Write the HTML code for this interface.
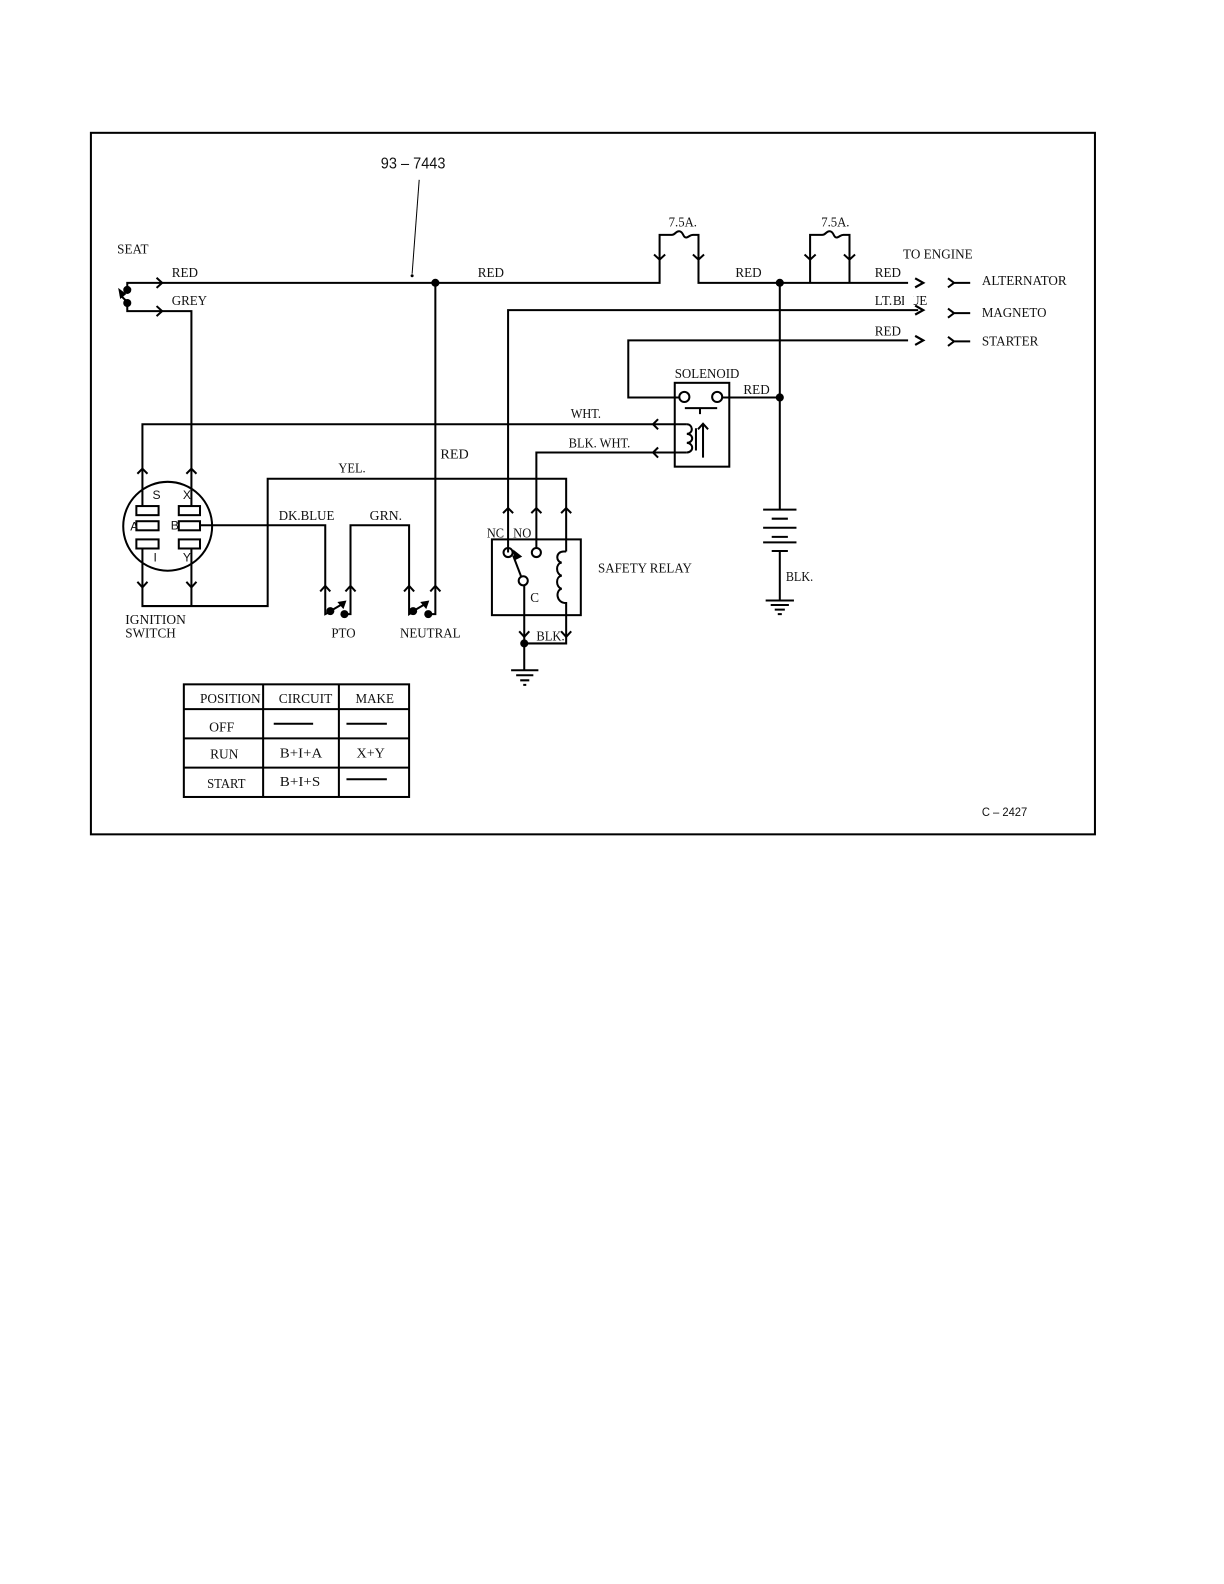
<!DOCTYPE html>
<html>
<head>
<meta charset="utf-8">
<style>
html,body{margin:0;padding:0;background:#fff;width:1224px;height:1584px;overflow:hidden}
svg{display:block}
text{font-family:"Liberation Serif",serif;font-size:13px;fill:#111}
.s{font-family:"Liberation Sans",sans-serif}
</style>
</head>
<body>
<svg width="1224" height="1584" viewBox="0 0 1211.76 1568.16" xmlns="http://www.w3.org/2000/svg">
<rect width="1224" height="1584" fill="#fff"/>
<rect x="90" y="131.500" width="994" height="694.500" fill="none" stroke="#000" stroke-width="2"/>

<g fill="none" stroke="#000" stroke-width="2">
<!-- leader -->
<path d="M415 178L408 271" stroke-width="1"/>
<!-- main wires -->
<path d="M126 285V280H653V232.500H665C669 232.500 669 228 673 229C677 230 676 236 680 235C683 234 683 232.500 686 232.500H691.500V280H899"/>
<path d="M802 280V232.500H814C818 232.500 818 228 822 229C826 230 825 236 829 235C832 234 832 232.500 835 232.500H841V280"/>
<path d="M126 300V308H189.500V501"/>
<path d="M503 547V307H909"/>
<path d="M672 393.500H622V337H899"/>
<path d="M715 393.500H772"/>
<path d="M772 280V505"/>
<path d="M772 546V595"/>
<path d="M431 280V608L424 608"/>
<!-- switch wires -->
<path d="M141 501V420H680"/>
<path d="M141 543V600H265V474H560.500V546"/>
<path d="M189.500 543V600"/>
<path d="M198 520H322V608L327 605.500"/>
<path d="M341 608H347V520H405V608L409 605.500"/>
<path d="M531 542V448H680"/>
<!-- ignition -->
<circle cx="166" cy="521" r="44"/>
<rect x="135" y="501" width="22" height="9"/>
<rect x="135" y="516" width="22" height="9"/>
<rect x="135" y="534" width="22" height="9"/>
<rect x="177" y="501" width="21" height="9"/>
<rect x="177" y="516" width="21" height="9"/>
<rect x="177" y="534" width="21" height="9"/>
<!-- solenoid -->
<rect x="668" y="379" width="54" height="83"/>
<circle cx="677.500" cy="393" r="5"/>
<circle cx="710" cy="393" r="5"/>
<path d="M678 404H710M693 404V410"/>
<path d="M680 420C686 420 687 429 680 429.500C687 430 687 438 680 438.500C687 439 687 447.500 680 448"/>
<path d="M689 424V446M696 420V453M691 425L696 419.500L701 425"/>
<!-- relay -->
<rect x="487" y="534" width="88" height="75"/>
<circle cx="503" cy="547" r="4.500"/>
<circle cx="531" cy="547" r="4.500"/>
<circle cx="518" cy="575" r="4.500"/>
<path d="M516 571L508 550"/>
<path d="M519 580V663"/>
<path d="M560.500 546H558C550 546 550 556 556 557C550 558 550 568 556 570C550 571 550 581 556 583C550 584 550 597 560.500 597V637H519"/>
<!-- grounds -->
<path d="M506 663.500H533M511 668.500H528M515 673.500H524M518 678H521"/>
<path d="M758 594.500H786M763 599H781M767 603.500H777M770 608H774"/>
<!-- battery -->
<path d="M755.500 504.500H788.500M764 513.500H780M755.500 522.500H788.500M764 531.500H780M755.500 537H788.500M764 545.500H780"/>
<!-- table -->
<rect x="182" y="677.500" width="223" height="111.500"/>
<path d="M260.500 677V789M335.500 677V789M182 702H405M182 731H405M182 760H405"/>
<path d="M271 716.500H310M343 716.500H383M343 771.500H383"/>
<!-- chevrons right -->
<path d="M155 275L160.500 280L155 285M155 303L160.500 308L155 313"/>
<path d="M906 275.500L914 280L906 284.500M906 302.500L914 307L906 311.500M906 332.500L914 337L906 341.500" stroke-width="2.200"/>
<path d="M938.500 275.500L944.500 280L938.500 284.500M944.500 280H960.500M938.500 305.500L944.500 310L938.500 314.500M944.500 310H960.500M938.500 333.500L944.500 338L938.500 342.500M944.500 338H960.500" stroke-width="2"/>
<!-- chevrons down -->
<path d="M647.500 252L653 257L658.500 252M686 252L691.500 257L697 252M796.500 252L802 257L807.500 252M835.500 252L841 257L846.500 252"/>
<path d="M136 576L141 581.500L146 576M184.500 576L189.500 581.500L194.500 576"/>
<path d="M514 625L519 630.500L524 625M555.500 625L560.500 630.500L565.500 625"/>
<!-- chevrons up -->
<path d="M136 469L141 464L146 469M184.500 469L189.500 464L194.500 469"/>
<path d="M317 585.500L322 580L327 585.500M342 585.500L347 580L352 585.500M400 585.500L405 580L410 585.500M426 585.500L431 580L436 585.500"/>
<path d="M498 508L503 503L508 508M526 508L531 503L536 508M555.500 508L560.500 503L565.500 508"/>
<!-- chevrons left -->
<path d="M651.500 415L646.500 420L651.500 425M651.500 443L646.500 448L651.500 453"/>
<!-- switch arrows -->
<path d="M327 605L339 598M409 605L421 598"/>
</g>

<g fill="#000">
<circle cx="431" cy="280" r="4"/>
<circle cx="772" cy="280" r="4"/>
<circle cx="772" cy="393.500" r="4"/>
<circle cx="519" cy="637" r="4"/>
<circle cx="408" cy="273" r="1.500"/>
<circle cx="126" cy="287" r="4"/>
<circle cx="126" cy="300" r="4"/>
<circle cx="327" cy="605" r="4"/>
<circle cx="341" cy="608" r="4"/>
<circle cx="409" cy="605" r="4"/>
<circle cx="424" cy="608" r="4"/>
<polygon points="117,285 125,291 119,296"/>
<path d="M119 292L125 298" stroke="#000" stroke-width="2"/>
<polygon points="343,594.500 334,596 340,603"/>
<polygon points="425,594.500 416,596 422,603"/>
<polygon points="508,544 517,551 509,555"/>
</g>

<text class="s" x="377" y="167" style="font-size:15.500px" textLength="64" lengthAdjust="spacingAndGlyphs">93 – 7443</text>
<text class="s" x="972" y="808" style="font-size:12px" textLength="45" lengthAdjust="spacingAndGlyphs">C – 2427</text>

<text x="116" y="251" textLength="31" lengthAdjust="spacingAndGlyphs">SEAT</text>
<text x="170" y="274" textLength="26" lengthAdjust="spacingAndGlyphs">RED</text>
<text x="170" y="302" textLength="35" lengthAdjust="spacingAndGlyphs">GREY</text>
<text x="473" y="274" textLength="26" lengthAdjust="spacingAndGlyphs">RED</text>
<text x="728" y="274" textLength="26" lengthAdjust="spacingAndGlyphs">RED</text>
<text x="866" y="274" textLength="26" lengthAdjust="spacingAndGlyphs">RED</text>
<text x="866" y="332" textLength="26" lengthAdjust="spacingAndGlyphs">RED</text>
<text x="866 873 880 883 884 892 901 910" y="302">LT. BLUE</text>
<rect x="895" y="292" width="9.500" height="12" fill="#fff"/>
<text x="662" y="224" textLength="28" lengthAdjust="spacingAndGlyphs">7.5A.</text>
<text x="813" y="224" textLength="28" lengthAdjust="spacingAndGlyphs">7.5A.</text>
<text x="894" y="256" textLength="69" lengthAdjust="spacingAndGlyphs">TO ENGINE</text>
<text x="972" y="282" textLength="84" lengthAdjust="spacingAndGlyphs">ALTERNATOR</text>
<text x="972" y="314" textLength="64" lengthAdjust="spacingAndGlyphs">MAGNETO</text>
<text x="972" y="342" textLength="56" lengthAdjust="spacingAndGlyphs">STARTER</text>
<text x="668" y="374" textLength="64" lengthAdjust="spacingAndGlyphs">SOLENOID</text>
<text x="736" y="390" textLength="26" lengthAdjust="spacingAndGlyphs">RED</text>
<text x="565" y="414" textLength="30" lengthAdjust="spacingAndGlyphs">WHT.</text>
<text x="563" y="443" textLength="61" lengthAdjust="spacingAndGlyphs">BLK. WHT.</text>
<text x="436" y="454" textLength="28" lengthAdjust="spacingAndGlyphs">RED</text>
<text x="335" y="468" textLength="27" lengthAdjust="spacingAndGlyphs">YEL.</text>
<text x="276" y="515" textLength="55" lengthAdjust="spacingAndGlyphs">DK.BLUE</text>
<text x="366" y="515" textLength="32" lengthAdjust="spacingAndGlyphs">GRN.</text>
<text x="124" y="618" textLength="60" lengthAdjust="spacingAndGlyphs">IGNITION</text>
<text x="124" y="631" textLength="50" lengthAdjust="spacingAndGlyphs">SWITCH</text>
<text x="328" y="631" textLength="24" lengthAdjust="spacingAndGlyphs">PTO</text>
<text x="396" y="631" textLength="60" lengthAdjust="spacingAndGlyphs">NEUTRAL</text>
<text x="482" y="532" textLength="17" lengthAdjust="spacingAndGlyphs">NC</text>
<text x="508" y="532" textLength="18" lengthAdjust="spacingAndGlyphs">NO</text>
<text x="525" y="596">C</text>
<text x="592" y="567" textLength="93" lengthAdjust="spacingAndGlyphs">SAFETY RELAY</text>
<text x="531" y="634" textLength="28" lengthAdjust="spacingAndGlyphs">BLK.</text>
<text x="778" y="575" textLength="27" lengthAdjust="spacingAndGlyphs">BLK.</text>
<text class="s" x="151" y="494" style="font-size:12px">S</text>
<text class="s" x="181" y="494" style="font-size:12px">X</text>
<text class="s" x="129" y="525" style="font-size:12px">A</text>
<text class="s" x="169" y="524" style="font-size:12px">B</text>
<text class="s" x="152" y="556" style="font-size:12px">I</text>
<text class="s" x="181" y="556" style="font-size:12px">Y</text>

<text x="198" y="696" textLength="60" lengthAdjust="spacingAndGlyphs">POSITION</text>
<text x="276" y="696" textLength="53" lengthAdjust="spacingAndGlyphs">CIRCUIT</text>
<text x="352" y="696" textLength="38" lengthAdjust="spacingAndGlyphs">MAKE</text>
<text x="207" y="724" textLength="25" lengthAdjust="spacingAndGlyphs">OFF</text>
<text x="208" y="751" textLength="28" lengthAdjust="spacingAndGlyphs">RUN</text>
<text x="205" y="780" textLength="38" lengthAdjust="spacingAndGlyphs">START</text>
<text x="277" y="750" textLength="42" lengthAdjust="spacingAndGlyphs">B+I+A</text>
<text x="353" y="750" textLength="28" lengthAdjust="spacingAndGlyphs">X+Y</text>
<text x="277" y="778" textLength="40" lengthAdjust="spacingAndGlyphs">B+I+S</text>
</svg>
</body>
</html>
